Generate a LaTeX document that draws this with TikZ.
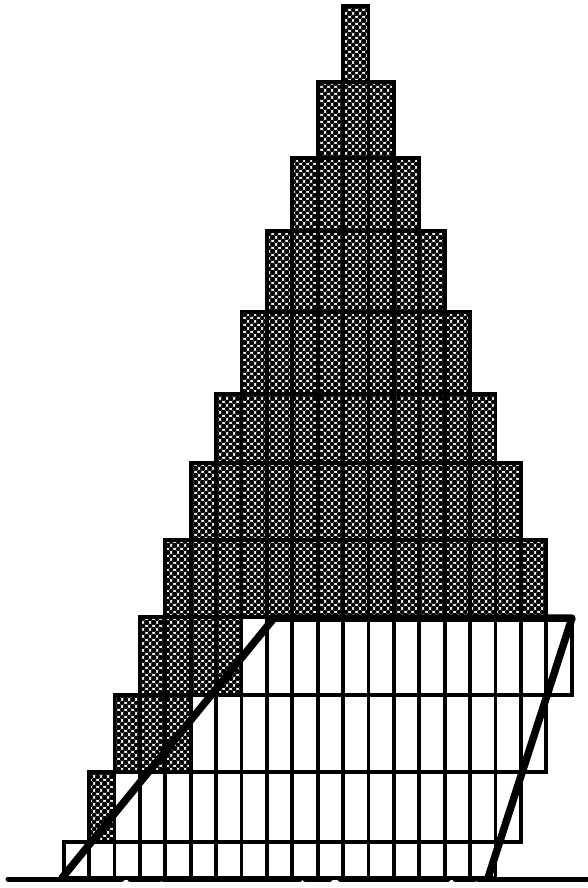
\documentclass[tikz,border=0pt]{standalone}
\usepackage{tikz}
\usetikzlibrary{patterns.meta}
% halftone dots for the shaded blocks
\tikzdeclarepattern{
  name=halftone,
  type=uncolored,
  bounding box={(0pt,0pt) and (7pt,7pt)},
  tile size={(7pt,7pt)},
  code={
    \fill (0pt,0pt) circle (2.5pt);
    \fill (7pt,0pt) circle (2.5pt);
    \fill (0pt,7pt) circle (2.5pt);
    \fill (7pt,7pt) circle (2.5pt);
    \fill (3.5pt,3.5pt) circle (2.5pt);
  }
}

\begin{document}
\begin{tikzpicture}[x=1pt,y=-1pt]
  % Define styles for the blocks and the outline
  \tikzset{
    cell/.style={
      draw=black,
      line width=3.8pt
    },
    shadedcell/.style={
      cell,
      pattern=halftone,
      pattern color=black
    },
    outline/.style={
      draw=black,
      line width=7.5pt,
      line cap=round,
      line join=round
    },
    groundline/.style={
      draw=black,
      line width=5pt,
      line cap=round
    }
  }

  \useasboundingbox (0,0) rectangle (587,888);

  \def\cw{25.4} % column width
  \def\xo{343}  % left edge of the middle column

  % Stepped pyramid, all shaded
  \foreach \r/\t/\b in {1/6/82, 2/82/158, 3/158/231, 4/231/312,
                        5/312/394, 6/394/463, 7/463/540, 8/540/617} {
    \pgfmathtruncatemacro{\m}{\r-1}
    \foreach \k in {-\m,...,\m} {
      \path[shadedcell] ({\xo+\k*\cw},\t) rectangle ({\xo+(\k+1)*\cw},\b);
    }
  }

  % Lower rows, shifted one column per row
  \foreach \r/\t/\b/\ns in {9/617/695/4, 10/695/772/3, 11/772/842/1, 12/842/878/0} {
    \pgfmathtruncatemacro{\kz}{1-\r}
    \foreach \j in {0,...,16} {
      \pgfmathtruncatemacro{\k}{\kz+\j}
      \ifnum\j<\ns
        \path[shadedcell] ({\xo+\k*\cw},\t) rectangle ({\xo+(\k+1)*\cw},\b);
      \else
        \path[cell] ({\xo+\k*\cw},\t) rectangle ({\xo+(\k+1)*\cw},\b);
      \fi
    }
  }

  % Trapezoid outline
  \coordinate (lowleft)  at (62,878);
  \coordinate (upleft)   at (274,618);
  \coordinate (upright)  at (572,618);
  \coordinate (lowright) at (488,878);
  \draw[outline] (lowleft) -- (upleft) -- (upright) -- (lowright);

  % Ground line
  \foreach \a/\b in {8/122, 130/160, 163/300, 305/330, 340/448, 455/475, 478/587} {
    \coordinate (ga) at (\a,879);
    \coordinate (gb) at (\b,879);
    \draw[groundline] (ga) -- (gb);
  }
\end{tikzpicture}
\end{document}
